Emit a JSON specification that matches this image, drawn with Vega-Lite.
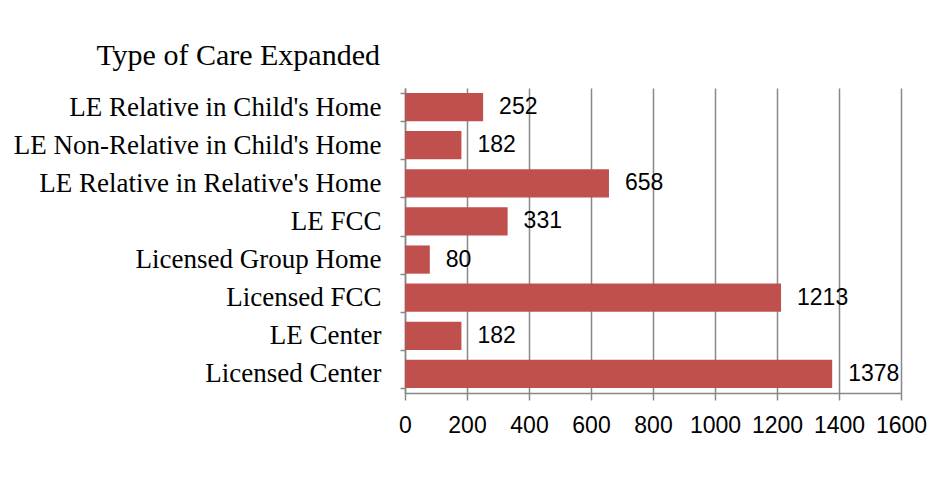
{
  "$schema": "https://vega.github.io/schema/vega-lite/v6.json",
  "autosize": {"type": "none"},
  "padding": {"left": 405, "top": 88, "right": 46, "bottom": 87},
  "width": 496,
  "height": 305,
  "background": "white",
  "title": {
    "text": "Type of Care Expanded",
    "anchor": "start",
    "frame": "group",
    "align": "right",
    "dx": -25,
    "dy": 35,
    "baseline": "alphabetic",
    "offset": 14,
    "font": "Liberation Serif",
    "fontSize": 30,
    "fontWeight": "normal",
    "color": "black"
  },
  "data": {
    "values": [
      {"type": "LE Relative in Child's Home", "count": 252},
      {"type": "LE Non-Relative in Child's Home", "count": 182},
      {"type": "LE Relative in Relative's Home", "count": 658},
      {"type": "LE FCC", "count": 331},
      {"type": "Licensed Group Home", "count": 80},
      {"type": "Licensed FCC", "count": 1213},
      {"type": "LE Center", "count": 182},
      {"type": "Licensed Center", "count": 1378}
    ]
  },
  "encoding": {
    "y": {
      "field": "type",
      "type": "nominal",
      "sort": null,
      "scale": {"paddingInner": 0.26, "paddingOuter": 0.13},
      "axis": {
        "title": null,
        "tickBand": "extent",
        "tickSize": 5,
        "tickColor": "#888888",
        "tickWidth": 1.5,
        "domainColor": "#888888",
        "domainWidth": 1.5,
        "labelPadding": 19,
        "labelFont": "Liberation Serif",
        "labelFontSize": 27,
        "labelColor": "black",
        "labelLimit": 500
      }
    },
    "x": {
      "field": "count",
      "type": "quantitative",
      "scale": {"domain": [0, 1600], "nice": false},
      "axis": {
        "title": null,
        "values": [0, 200, 400, 600, 800, 1000, 1200, 1400, 1600],
        "format": "d",
        "grid": true,
        "gridColor": "#888888",
        "gridWidth": 1.5,
        "tickSize": 7,
        "tickColor": "#888888",
        "tickWidth": 1.5,
        "domainColor": "#888888",
        "domainWidth": 1.5,
        "labelPadding": 14,
        "labelFont": "Liberation Sans",
        "labelFontSize": 23,
        "labelColor": "black",
        "labelFlush": false
      }
    }
  },
  "layer": [
    {"mark": {"type": "bar", "color": "#C0504D"}},
    {
      "mark": {
        "type": "text",
        "align": "left",
        "baseline": "middle",
        "dx": 16,
        "font": "Liberation Sans",
        "fontSize": 23,
        "color": "black"
      },
      "encoding": {"text": {"field": "count", "type": "quantitative"}}
    }
  ],
  "config": {"view": {"stroke": null}}
}
